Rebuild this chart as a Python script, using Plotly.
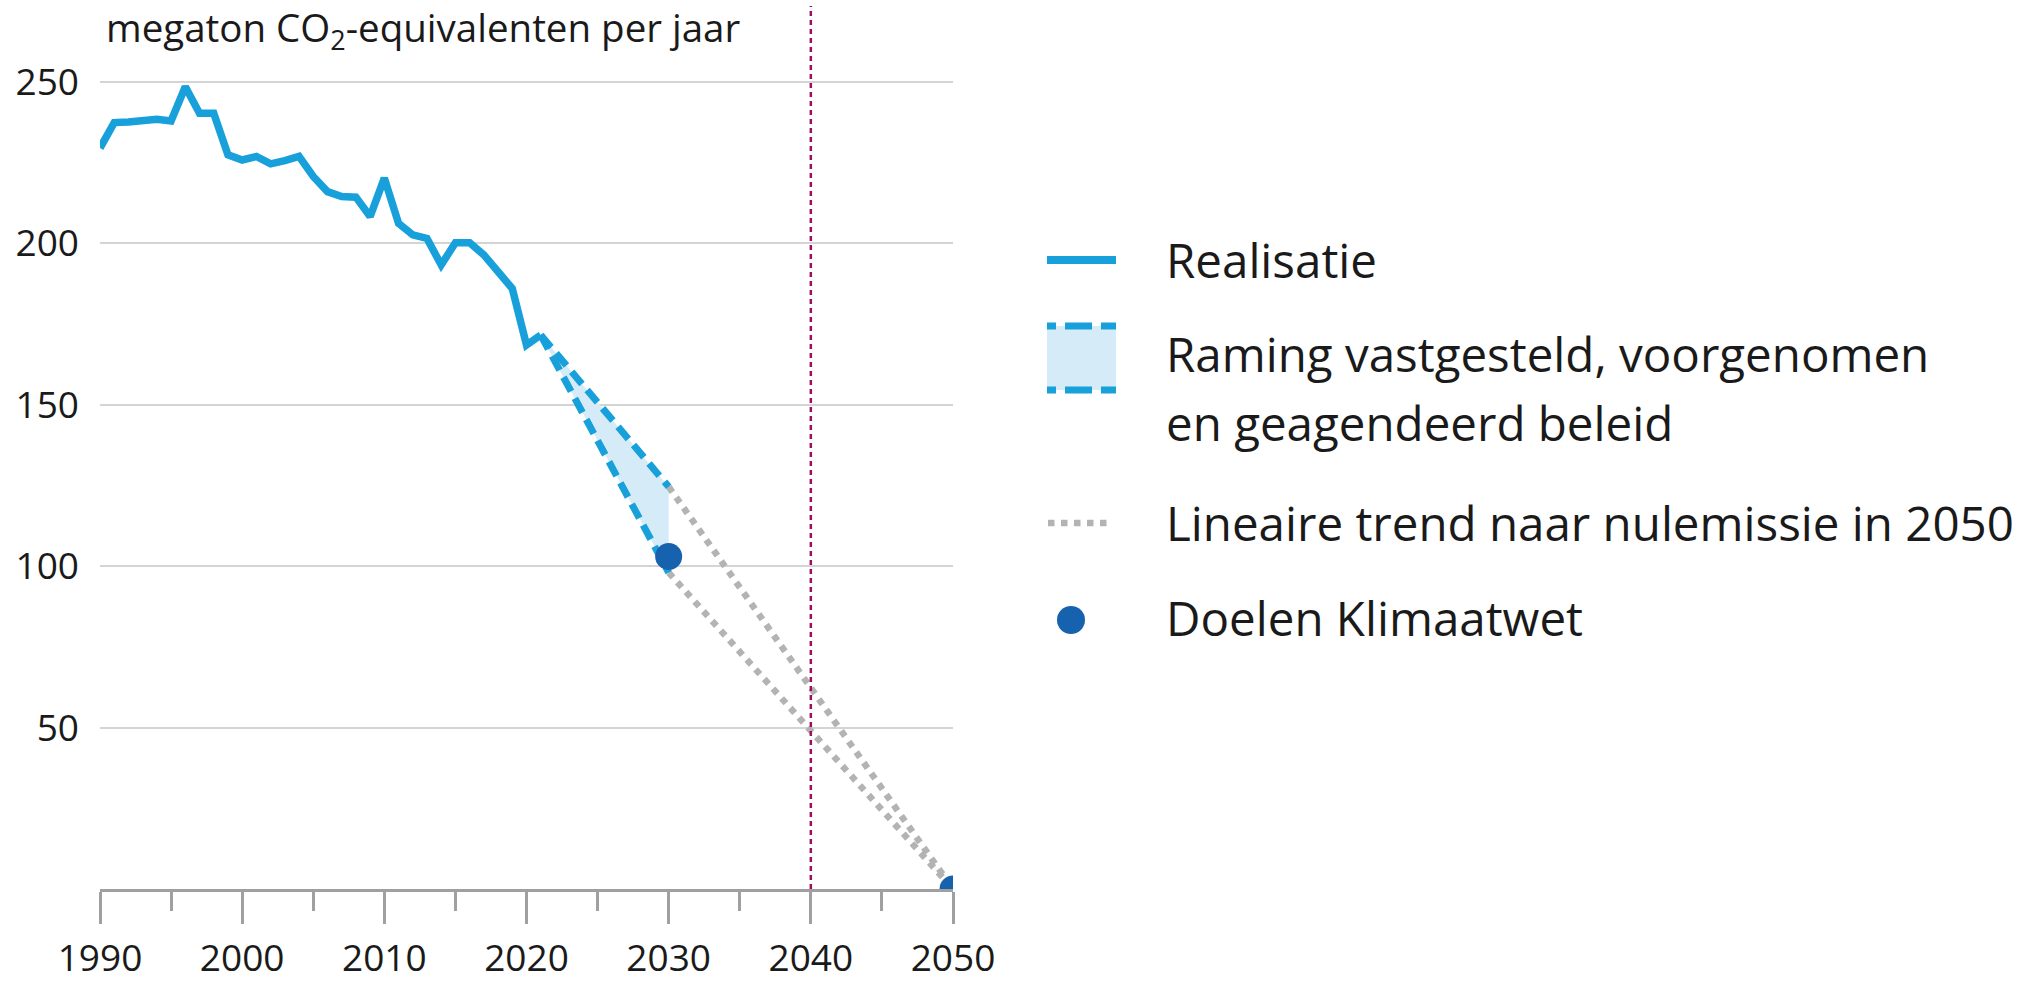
import plotly.graph_objects as go

# ---------------- data ----------------
years_real = list(range(1990, 2022))
realisatie = [229.5, 237.4, 237.6, 238.0, 238.4, 237.9, 248.5, 240.3, 240.3, 227.4,
              225.8, 226.9, 224.6, 225.6, 226.9, 220.7, 216.0, 214.5, 214.3, 208.3,
              220.2, 206.2, 202.6, 201.5, 193.3, 200.2, 200.2, 196.4, 191.5, 186.0,
              168.5, 171.6]

proj_years = [2021, 2030]
proj_high = [171.6, 124.6]
proj_low = [171.6, 98.0]

trend_years = [2030, 2050]
trend_high = [124.6, 0.0]
trend_low = [98.0, 0.0]

doel_years = [2030, 2050]
doel_values = [103.0, 0.0]

x_ticks = [1990, 2000, 2010, 2020, 2030, 2040, 2050]
y_ticks = [50, 100, 150, 200, 250]
marker_year = 2040

legend_labels = ["Realisatie",
                 "Raming vastgesteld, voorgenomen",
                 "en geagendeerd beleid",
                 "Lineaire trend naar nulemissie in 2050",
                 "Doelen Klimaatwet"]
y_title = "megaton CO<sub>2</sub>-equivalenten per jaar"

# ---------------- style ----------------
BLUE = "#18A0DB"
LIGHT = "#D6EBF8"
DARK = "#1762AE"
GRAY = "#B3B3B3"
PURPLE = "#9E0E60"
FONT = "Open Sans"
TXT = "#1a1a1a"

W, H = 2034, 982
L, R, T, B = 100, 953, 6, 889   # plot area in page pixels


def px_x(px):
    return (px - L) / (R - L)


def px_y(py):
    return (B - py) / (B - T)


fig = go.Figure()

# fill of projection band
fig.add_trace(go.Scatter(x=proj_years, y=proj_low, mode="lines",
                         line=dict(width=0, color=LIGHT), showlegend=False,
                         hoverinfo="skip"))
fig.add_trace(go.Scatter(x=proj_years, y=proj_high, mode="lines", fill="tonexty",
                         fillcolor=LIGHT, line=dict(width=0, color=LIGHT),
                         showlegend=False, hoverinfo="skip"))

# linear trends
for ys in (trend_high, trend_low):
    fig.add_trace(go.Scatter(x=trend_years, y=ys, mode="lines",
                             line=dict(color=GRAY, width=6.5, dash="dot"),
                             showlegend=False))

# projection dashed lines
for ys in (proj_high, proj_low):
    fig.add_trace(go.Scatter(x=proj_years, y=ys, mode="lines",
                             line=dict(color=BLUE, width=7, dash="16px,8px"),
                             showlegend=False))

# realisation
fig.add_trace(go.Scatter(x=years_real, y=realisatie, mode="lines",
                         line=dict(color=BLUE, width=7.5), showlegend=False))

# targets
fig.add_trace(go.Scatter(x=doel_years, y=doel_values, mode="markers",
                         marker=dict(color=DARK, size=27), showlegend=False,
                         cliponaxis=True))

shapes = []
# vertical 2040 line
shapes.append(dict(type="line", xref="x", yref="paper", x0=marker_year, x1=marker_year,
                   y0=0, y1=1, line=dict(color=PURPLE, width=2.5, dash="5px,4px")))

# ---- manual legend ----
lx0, lx1 = 1047, 1116
# Realisatie
shapes.append(dict(type="line", xref="paper", yref="paper",
                   x0=px_x(lx0), x1=px_x(lx1), y0=px_y(260), y1=px_y(260),
                   line=dict(color=BLUE, width=8)))
# Raming box
shapes.append(dict(type="rect", xref="paper", yref="paper",
                   x0=px_x(lx0), x1=px_x(lx1), y0=px_y(390), y1=px_y(326),
                   fillcolor=LIGHT, line=dict(width=0)))
for yy in (326, 390):
    for a, b in ((1047, 1056), (1065, 1092), (1101, 1116)):
        shapes.append(dict(type="line", xref="paper", yref="paper",
                           x0=px_x(a), x1=px_x(b), y0=px_y(yy), y1=px_y(yy),
                           line=dict(color=BLUE, width=7)))
# Lineaire trend
shapes.append(dict(type="line", xref="paper", yref="paper",
                   x0=px_x(1048), x1=px_x(1108), y0=px_y(523), y1=px_y(523),
                   line=dict(color=GRAY, width=6.5, dash="dot")))
# Doelen dot
shapes.append(dict(type="circle", xref="paper", yref="paper",
                   x0=px_x(1057), x1=px_x(1085), y0=px_y(634), y1=px_y(606),
                   fillcolor=DARK, line=dict(width=0)))

annotations = []
legend_y = [259, 353, 422, 522, 617]
for txt, yy in zip(legend_labels, legend_y):
    annotations.append(dict(xref="paper", yref="paper", x=px_x(1164), y=px_y(yy),
                            xanchor="left", yanchor="middle", text=txt,
                            showarrow=False, font=dict(family=FONT, size=47.5, color=TXT)))
annotations.append(dict(xref="paper", yref="paper", x=px_x(104), y=px_y(29),
                        xanchor="left", yanchor="middle", text=y_title,
                        showarrow=False, font=dict(family=FONT, size=38.5, color=TXT)))

fig.update_layout(
    width=W, height=H,
    margin=dict(l=L, r=W - R, t=T, b=H - B, pad=0, autoexpand=False),
    paper_bgcolor="white", plot_bgcolor="white",
    font=dict(family=FONT, size=37, color=TXT),
    shapes=shapes, annotations=annotations,
    showlegend=False,
)
fig.update_xaxes(
    range=[1990, 2050], tickvals=x_ticks, showgrid=False, zeroline=False,
    automargin=False,
    showline=True, linecolor="#A0A0A0", linewidth=2.5,
    ticks="outside", ticklen=32, tickwidth=2.5, tickcolor="#A0A0A0",
    ticklabelstandoff=3,
    minor=dict(dtick=5, tick0=1990, ticks="outside", ticklen=19,
               tickwidth=2.5, tickcolor="#A0A0A0", showgrid=False),
    tickfont=dict(family=FONT, size=37, color=TXT),
)
fig.update_yaxes(
    range=[0, 273.5], tickvals=y_ticks, showgrid=True, gridcolor="#D4D4D4",
    gridwidth=2, zeroline=False, showline=False, ticks="",
    automargin=False,
    ticklabelstandoff=20,
    tickfont=dict(family=FONT, size=37, color=TXT),
)

fig.write_html("out.html",
               config={"displayModeBar": False},
               post_script="document.body.style.margin='0';"
                           "document.body.style.overflow='hidden';")
